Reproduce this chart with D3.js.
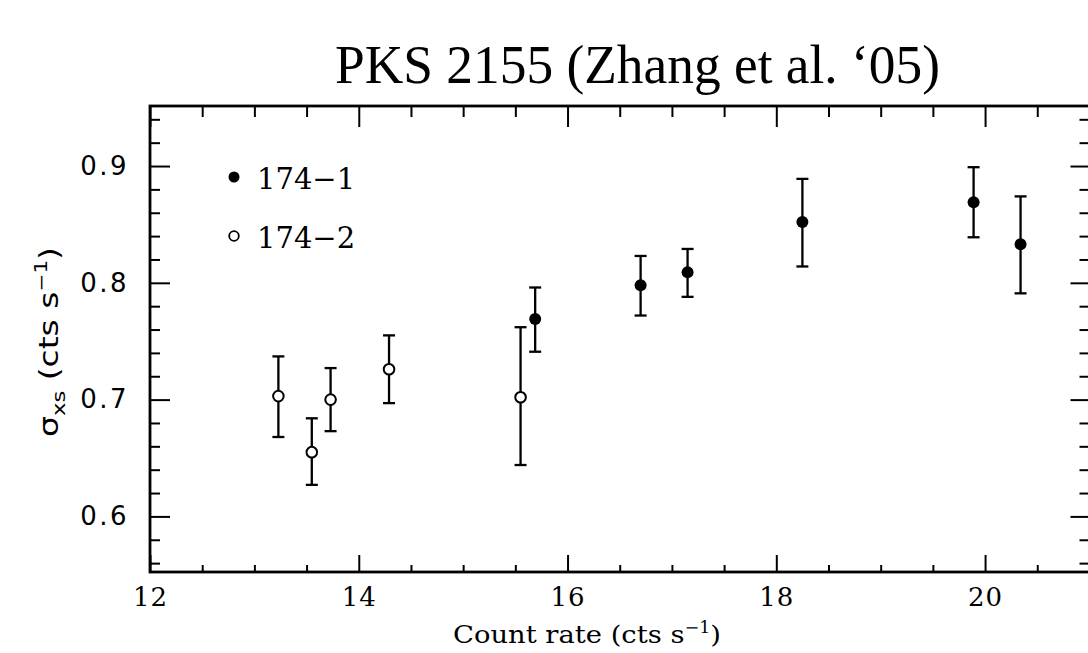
<!DOCTYPE html>
<html lang="en">
<head>
    <meta charset="UTF-8">
    <title>PKS 2155 excess variance</title>
    <script src="https://d3js.org/d3.v7.min.js"></script>
    <style>
        body { margin: 0; background: #fff; }
        svg { display: block; }
    </style>
</head>
<body>
    <script>
        // sigma_xs vs count rate, two observations
        var w = 1088;
        var h = 653;

        // 174-1 (filled)
        var rate1 = [15.69, 16.70, 17.15, 18.25, 19.89, 20.34];
        var sig1 = [0.769, 0.798, 0.809, 0.852, 0.869, 0.833];
        var sig1Hi = [0.796, 0.823, 0.829, 0.889, 0.899, 0.874];
        var sig1Lo = [0.741, 0.772, 0.788, 0.814, 0.839, 0.791];

        // 174-2 (open)
        var rate2 = [13.23, 13.55, 13.73, 14.29, 15.55];
        var sig2 = [0.703, 0.655, 0.700, 0.726, 0.702];
        var sig2Hi = [0.737, 0.684, 0.727, 0.755, 0.762];
        var sig2Lo = [0.668, 0.627, 0.673, 0.697, 0.644];

        var seriesNames = ['174\u22121', '174\u22122'];
        var xMajor = [12, 14, 16, 18, 20];
        var yMajor = [0.6, 0.7, 0.8, 0.9];

        // frame edges (note: "top" is taken by window.top)
        // right edge sits just past the window, like the source figure
        var padL = 150, padR = 1090.5, padT = 106, padB = 572;

        var xScale = d3.scaleLinear().domain([12, 21.01]).range([padL, padR]);
        var yScale = d3.scaleLinear().domain([0.5524, 0.9514]).range([padB, padT]);

        var xMinor = d3.range(12, 21.01, 0.5).filter(function(v) { return xMajor.indexOf(v) < 0; });
        var yMinor = d3.range(0.56, 0.951, 0.02).map(function(v) { return +v.toFixed(2); })
                       .filter(function(v) { return yMajor.indexOf(v) < 0; });

        var svg = d3.select('body').append('svg')
                    .attr('width', w)
                    .attr('height', h);

        // title
        svg.append('text')
           .attr('x', 335)
           .attr('y', 83)
           .attr('font-family', 'Liberation Serif, Times New Roman, serif')
           .attr('font-size', 54)
           .attr('textLength', 605)
           .attr('lengthAdjust', 'spacingAndGlyphs')
           .text('PKS 2155 (Zhang et al. \u201805)');

        function styleAxis(g) {
            g.select('.domain').remove();
            g.selectAll('.tick line').attr('stroke', '#000').attr('stroke-width', 2);
        }

        // bottom
        svg.append('g')
           .attr('transform', 'translate(0,' + padB + ')')
           .call(d3.axisBottom(xScale).tickValues(xMajor).tickSize(-17).tickPadding(16)
                   .tickFormat(d3.format('d')))
           .call(styleAxis)
           .selectAll('text')
           .attr('font-family', 'DejaVu Serif, serif')
           .attr('font-size', 26)
           .attr('letter-spacing', 1)
           .attr('fill', '#000');
        svg.append('g')
           .attr('transform', 'translate(0,' + padB + ')')
           .call(d3.axisBottom(xScale).tickValues(xMinor).tickSize(-7).tickFormat(''))
           .call(styleAxis);

        // top
        svg.append('g')
           .attr('transform', 'translate(0,' + padT + ')')
           .call(d3.axisTop(xScale).tickValues(xMajor).tickSize(-21).tickFormat(''))
           .call(styleAxis);
        svg.append('g')
           .attr('transform', 'translate(0,' + padT + ')')
           .call(d3.axisTop(xScale).tickValues(xMinor).tickSize(-11).tickFormat(''))
           .call(styleAxis);

        // left
        svg.append('g')
           .attr('transform', 'translate(' + padL + ',0)')
           .call(d3.axisLeft(yScale).tickValues(yMajor).tickSize(-20).tickPadding(21)
                   .tickFormat(d3.format('.1f')))
           .call(styleAxis)
           .selectAll('text')
           .attr('font-family', 'DejaVu Sans, sans-serif')
           .attr('font-size', 26)
           .attr('letter-spacing', 2.5)
           .attr('fill', '#000');
        svg.append('g')
           .attr('transform', 'translate(' + padL + ',0)')
           .call(d3.axisLeft(yScale).tickValues(yMinor).tickSize(-10).tickFormat(''))
           .call(styleAxis);

        // right
        svg.append('g')
           .attr('transform', 'translate(' + padR + ',0)')
           .call(d3.axisRight(yScale).tickValues(yMajor).tickSize(-20).tickFormat(''))
           .call(styleAxis);
        svg.append('g')
           .attr('transform', 'translate(' + padR + ',0)')
           .call(d3.axisRight(yScale).tickValues(yMinor).tickSize(-11).tickFormat(''))
           .call(styleAxis);

        // frame
        svg.append('rect')
           .attr('x', padL)
           .attr('y', padT)
           .attr('width', padR - padL)
           .attr('height', padB - padT)
           .attr('fill', 'none')
           .attr('stroke', '#000')
           .attr('stroke-width', 2.8);

        // axis titles
        var xt = svg.append('text')
           .attr('x', 453)
           .attr('y', 643)
           .attr('font-family', 'DejaVu Serif, serif')
           .attr('font-size', 25)
           .attr('textLength', 268)
           .attr('lengthAdjust', 'spacingAndGlyphs');
        xt.append('tspan').text('Count rate (cts s');
        xt.append('tspan').attr('dy', -10).attr('font-size', 16).text('\u22121');
        xt.append('tspan').attr('dy', 10).text(')');

        var yt = svg.append('text')
           .attr('transform', 'translate(58,342) rotate(-90)')
           .attr('text-anchor', 'middle')
           .attr('font-family', 'DejaVu Sans, sans-serif')
           .attr('font-size', 26)
           .attr('textLength', 190)
           .attr('lengthAdjust', 'spacingAndGlyphs');
        yt.append('tspan').text('\u03c3');
        yt.append('tspan').attr('dy', 7).attr('font-size', 18).text('xs');
        yt.append('tspan').attr('dy', -7).text(' (cts s');
        yt.append('tspan').attr('dy', -11).attr('font-size', 17).text('\u22121');
        yt.append('tspan').attr('dy', 11).text(')');

        // error bars + markers
        function drawSeries(rates, vals, hi, lo, filled) {
            var data = rates.map(function(r, i) {
                return { x: r, y: vals[i], hi: hi[i], lo: lo[i] };
            });
            var g = svg.append('g');
            g.selectAll('.bar')
             .data(data).enter()
             .append('line')
             .attr('x1', function(d) { return xScale(d.x); })
             .attr('x2', function(d) { return xScale(d.x); })
             .attr('y1', function(d) { return yScale(d.hi); })
             .attr('y2', function(d) { return yScale(d.lo); })
             .attr('stroke', '#000')
             .attr('stroke-width', 2.3);
            ['hi', 'lo'].forEach(function(k) {
                g.selectAll('.cap' + k)
                 .data(data).enter()
                 .append('line')
                 .attr('x1', function(d) { return xScale(d.x) - 6; })
                 .attr('x2', function(d) { return xScale(d.x) + 6; })
                 .attr('y1', function(d) { return yScale(d[k]); })
                 .attr('y2', function(d) { return yScale(d[k]); })
                 .attr('stroke', '#000')
                 .attr('stroke-width', 2.3);
            });
            g.selectAll('circle')
             .data(data).enter()
             .append('circle')
             .attr('cx', function(d) { return xScale(d.x); })
             .attr('cy', function(d) { return yScale(d.y); })
             .attr('r', filled ? 6 : 5.3)
             .attr('fill', filled ? '#000' : '#fff')
             .attr('stroke', '#000')
             .attr('stroke-width', filled ? 0 : 2);
        }
        drawSeries(rate1, sig1, sig1Hi, sig1Lo, true);
        drawSeries(rate2, sig2, sig2Hi, sig2Lo, false);

        // legend
        var legY = [177, 236];
        seriesNames.forEach(function(name, i) {
            svg.append('circle')
               .attr('cx', 234)
               .attr('cy', legY[i])
               .attr('r', i === 0 ? 5.5 : 4.8)
               .attr('fill', i === 0 ? '#000' : '#fff')
               .attr('stroke', '#000')
               .attr('stroke-width', i === 0 ? 0 : 1.8);
            svg.append('text')
               .attr('x', 257)
               .attr('y', legY[i] + 12)
               .attr('font-family', 'DejaVu Serif, serif')
               .attr('font-size', 29)
               .text(name);
        });
    </script>
</body>
</html>
